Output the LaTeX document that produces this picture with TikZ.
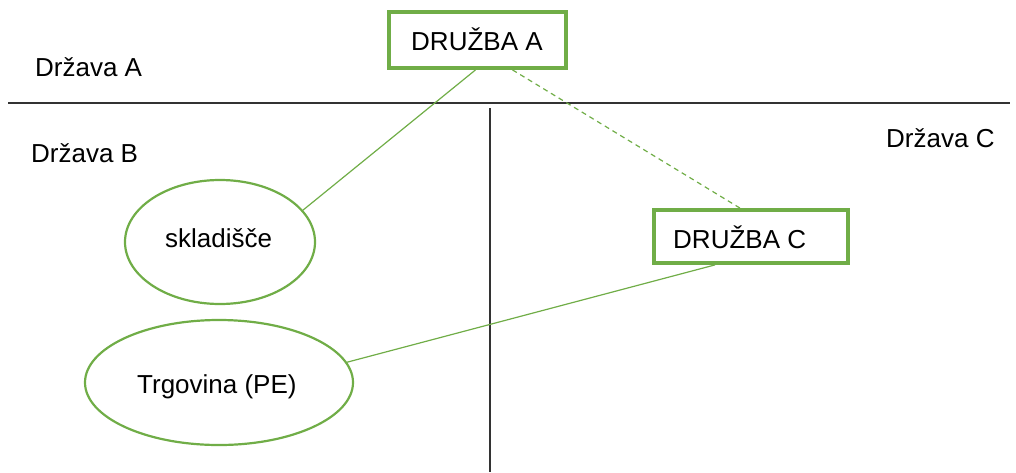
\documentclass[tikz,border=0pt]{standalone}
\usepackage{fontspec}
\setmainfont{Liberation Sans}
\usetikzlibrary{shapes.geometric,calc}
\definecolor{grn}{HTML}{70AD47}
\begin{document}
\begin{tikzpicture}[x=1pt,y=-1pt,
  txt/.style={font=\fontsize{26}{30}\selectfont, text=black, anchor=base west, inner sep=0pt},
  firm/.style={draw=grn, line width=3.8pt, rectangle, inner sep=0pt},
  pe/.style={draw=grn, line width=2.2pt, ellipse, inner sep=0pt},
  link/.style={draw=grn, line width=1.2pt},
  border/.style={draw=black!80, line width=1.3pt}]
\useasboundingbox (0,0) rectangle (1016,472);
\node[firm, minimum width=177pt, minimum height=56pt] (A) at (477.5,40) {};
\node[firm, minimum width=194pt, minimum height=53pt] (C) at (751,236.5) {};
\node[pe, minimum width=190pt, minimum height=124pt] (S) at (220,242) {};
\node[pe, minimum width=268pt, minimum height=125pt] (T) at (219,382.5) {};
\node[txt] (tA) at (411,50) {DRUŽBA A};
\node[txt] (tC) at (673,248) {DRUŽBA C};
\node[txt] (tS) at (165,247) {skladišče};
\node[txt] (tT) at (137,393) {Trgovina (PE)};
\node[txt] (lA) at (35,76) {Država A};
\node[txt] (lB) at (31,162) {Država B};
\node[txt] (lC) at (886,147) {Država C};
\coordinate (h1) at (8,103);
\coordinate (h2) at (1010,103);
\coordinate (v1) at (490,108);
\coordinate (v2) at (490,472);
\draw[border] (h1) -- (h2);
\draw[border] (v1) -- (v2);
\draw[link] ($(A.south)+(-2,0)$) -- (S.21);
\draw[link, dash pattern=on 5pt off 4pt] ($(A.south)+(35,0)$) -- ($(C.north)+(-11,0)$);
\draw[link] ($(C.south)+(-36,0)$) -- (T.9);
\end{tikzpicture}
\end{document}
